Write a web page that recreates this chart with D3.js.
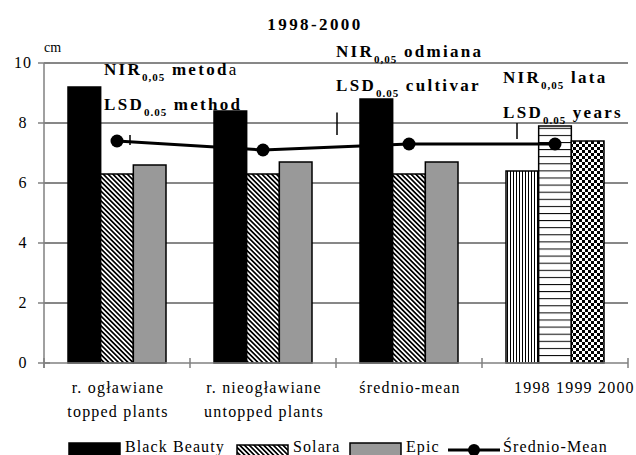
<!DOCTYPE html>
<html>
<head>
<meta charset="utf-8">
<script src="https://cdn.jsdelivr.net/npm/d3@7"></script>
</head>
<body style="margin:0;background:#fff">
<div id="chart"></div>
<script>
// Data
var categories = [["r. ogławiane", "topped plants"], ["r. nieogławiane", "untopped plants"], ["średnio-mean"], ["1998 1999 2000"]];
var cultivars   = ["Black Beauty", "Solara", "Epic"];
var blackBeauty = [9.2, 8.4, 8.8];
var solara      = [6.3, 6.3, 6.3];
var epic        = [6.6, 6.7, 6.7];
var years       = ["1998", "1999", "2000"];
var yearValues  = [6.4, 7.9, 7.4];
var meanValues  = [7.4, 7.1, 7.3, 7.3];
var lsdTop      = [7.6, 8.35, 8.0];
var lsdBottom   = [7.27, 7.6, 7.47];
var yTicks      = [0, 2, 4, 6, 8, 10];

var width  = 636,
    height = 455;
var serif = "'Liberation Serif', 'Times New Roman', serif";

var svg = d3.select("#chart")
    .append("svg")
    .attr("width", width)
    .attr("height", height)
    .style("font-family", serif);

// fill patterns
var defs = svg.append("defs");
var p = defs.append("pattern").attr("id", "diag")
    .attr("patternUnits", "userSpaceOnUse")
    .attr("width", 3.4).attr("height", 3.4)
    .attr("patternTransform", "rotate(-45)");
p.append("rect").attr("width", 3.4).attr("height", 3.4).attr("fill", "#fff");
p.append("rect").attr("width", 1.7).attr("height", 3.4).attr("fill", "#000");

p = defs.append("pattern").attr("id", "vert")
    .attr("patternUnits", "userSpaceOnUse")
    .attr("width", 3).attr("height", 3);
p.append("rect").attr("width", 3).attr("height", 3).attr("fill", "#fff");
p.append("rect").attr("width", 1).attr("height", 3).attr("fill", "#000");

p = defs.append("pattern").attr("id", "horiz")
    .attr("patternUnits", "userSpaceOnUse")
    .attr("width", 7).attr("height", 7.1);
p.append("rect").attr("width", 7).attr("height", 7.1).attr("fill", "#fff");
p.append("rect").attr("width", 7).attr("height", 1).attr("fill", "#000");

p = defs.append("pattern").attr("id", "checker")
    .attr("patternUnits", "userSpaceOnUse")
    .attr("width", 6).attr("height", 6);
p.append("rect").attr("width", 6).attr("height", 6).attr("fill", "#fff");
p.append("rect").attr("width", 3).attr("height", 3).attr("fill", "#000");
p.append("rect").attr("x", 3).attr("y", 3).attr("width", 3).attr("height", 3).attr("fill", "#000");

var cultivarFill = ["#000", "url(#diag)", "#999"];
var yearFill = ["url(#vert)", "url(#horiz)", "url(#checker)"];

// scales
var x = d3.scaleBand()
    .domain(d3.range(categories.length))
    .range([44, 628]);
var xInner = d3.scaleBand()
    .domain([0, 1, 2])
    .range([24, 122]);
var y = d3.scaleLinear()
    .domain([0, 10])
    .range([363, 63]);

// gridlines
svg.append("g").selectAll("line")
    .data(yTicks.filter(function(t) { return t > 0; }))
    .enter().append("line")
    .attr("x1", 44).attr("x2", 628)
    .attr("y1", function(d) { return y(d); })
    .attr("y2", function(d) { return y(d); })
    .attr("stroke", "#111").attr("stroke-width", 1);

// bars
var bars = [];
cultivars.forEach(function(c, s) {
    var vals = [blackBeauty, solara, epic][s];
    vals.forEach(function(v, i) { bars.push({cat: i, s: s, v: v, fill: cultivarFill[s]}); });
});
years.forEach(function(yr, j) {
    bars.push({cat: 3, s: j, v: yearValues[j], fill: yearFill[j]});
});

svg.append("g").selectAll("rect")
    .data(bars)
    .enter().append("rect")
    .attr("x", function(d) { return x(d.cat) + xInner(d.s); })
    .attr("y", function(d) { return y(d.v); })
    .attr("width", xInner.bandwidth())
    .attr("height", function(d) { return y(0) - y(d.v); })
    .attr("fill", function(d) { return d.fill; })
    .attr("stroke", "#000")
    .attr("stroke-width", 1.5);

// axes
var axis = svg.append("g").attr("stroke", "#808080").attr("stroke-width", 1.5);
axis.append("line").attr("x1", 44).attr("x2", 44).attr("y1", y(10)).attr("y2", y(0) + 5);
axis.append("line").attr("x1", 44).attr("x2", 628).attr("y1", y(0)).attr("y2", y(0));
axis.selectAll(".yt").data(yTicks).enter().append("line")
    .attr("x1", 38).attr("x2", 50)
    .attr("y1", function(d) { return y(d); })
    .attr("y2", function(d) { return y(d); });
axis.selectAll(".xt").data(d3.range(categories.length + 1)).enter().append("line")
    .attr("x1", function(i) { return i < categories.length ? x(i) : x.range()[1]; })
    .attr("x2", function(i) { return i < categories.length ? x(i) : x.range()[1]; })
    .attr("y1", y(0) - 5).attr("y2", y(0) + 5);

svg.append("g").selectAll("text")
    .data(yTicks)
    .enter().append("text")
    .attr("x", 23)
    .attr("y", function(d) { return y(d) + 4.5; })
    .attr("text-anchor", "middle")
    .style("font-family", serif)
    .attr("font-size", 16)
    .attr("letter-spacing", 1)
    .text(function(d) { return d; });

svg.append("text").attr("x", 44).attr("y", 52)
    .style("font-family", serif).attr("font-size", 14).text("cm");

// category labels
var catLabels = svg.append("g").attr("font-size", 16).attr("letter-spacing", 1.2);
categories.forEach(function(lines, i) {
    lines.forEach(function(line, k) {
        var t = catLabels.append("text")
            .attr("y", 393 + k * 24)
            .style("font-family", serif)
            .text(line);
        if (i === 3) {
            t.attr("x", x(i) + 32);
        } else {
            t.attr("x", x(i) + x.bandwidth() / 2 + 1).attr("text-anchor", "middle");
        }
    });
});

// LSD marks
var lsdX = [x(0) + 86, x(2) + 1, x(3) + 35];
svg.append("g").selectAll("line")
    .data(lsdTop)
    .enter().append("line")
    .attr("x1", function(d, i) { return lsdX[i]; })
    .attr("x2", function(d, i) { return lsdX[i]; })
    .attr("y1", function(d) { return y(d); })
    .attr("y2", function(d, i) { return y(lsdBottom[i]); })
    .attr("stroke", "#000").attr("stroke-width", 1.5);

// mean line
var line = d3.line()
    .x(function(d, i) { return x(i) + x.bandwidth() / 2; })
    .y(function(d) { return y(d); });
svg.append("path")
    .datum(meanValues)
    .attr("d", line)
    .attr("fill", "none")
    .attr("stroke", "#000")
    .attr("stroke-width", 3);
svg.append("g").selectAll("circle")
    .data(meanValues)
    .enter().append("circle")
    .attr("cx", function(d, i) { return x(i) + x.bandwidth() / 2; })
    .attr("cy", function(d) { return y(d); })
    .attr("r", 6.5)
    .attr("fill", "#000");

// title
svg.append("text")
    .attr("x", 315).attr("y", 30)
    .attr("text-anchor", "middle")
    .style("font-family", serif)
    .attr("font-size", 17).attr("font-weight", "bold")
    .attr("letter-spacing", 2.4)
    .text("1998-2000");

// LSD annotations
function annot(ax, ay, parts) {
    var t = svg.append("text").attr("x", ax).attr("y", ay)
        .style("font-family", serif)
        .attr("font-size", 17).attr("font-weight", "bold").attr("letter-spacing", 2.3);
    parts.forEach(function(pt) {
        var s = t.append("tspan").text(pt[0]);
        if (pt[1] === "sub") {
            s.attr("y", ay + 6).attr("font-size", 11).attr("letter-spacing", 1);
        } else {
            s.attr("y", ay);
            if (pt[1] === "r") s.attr("font-weight", "normal");
        }
    });
}
annot(104, 75,  [["NIR", "b"], ["0,05", "sub"], [" metod", "b"], ["a", "r"]]);
annot(104, 110, [["LSD", "b"], ["0.05", "sub"], [" method", "b"]]);
annot(336, 57,  [["NIR", "b"], ["0,05", "sub"], [" odmiana", "b"]]);
annot(336, 91,  [["LSD", "b"], ["0.05", "sub"], [" cultivar", "b"]]);
annot(503, 83,  [["NIR", "b"], ["0,05", "sub"], [" lata", "b"]]);
annot(503, 118, [["LSD", "b"], ["0.05", "sub"], [" years", "b"]]);

// legend
var legendX = [69, 237, 350, 448];
var legendNames = cultivars.concat(["Średnio-Mean"]);
var legend = svg.append("g");
legendNames.forEach(function(name, i) {
    var lx = legendX[i];
    if (i < 3) {
        legend.append("rect")
            .attr("x", lx).attr("y", i === 1 ? 445 : 443)
            .attr("width", 51).attr("height", 14)
            .attr("fill", cultivarFill[i])
            .attr("stroke", "#000").attr("stroke-width", 1.5);
    } else {
        legend.append("line")
            .attr("x1", lx).attr("x2", lx + 52)
            .attr("y1", 450).attr("y2", 450)
            .attr("stroke", "#000").attr("stroke-width", 3);
        legend.append("circle").attr("cx", lx + 26).attr("cy", 450).attr("r", 6).attr("fill", "#000");
    }
    legend.append("text")
        .attr("x", lx + (i < 3 ? 56 : 55)).attr("y", 452)
        .style("font-family", serif)
        .attr("font-size", 16).attr("letter-spacing", 1.1)
        .text(name);
});
</script>
</body>
</html>
